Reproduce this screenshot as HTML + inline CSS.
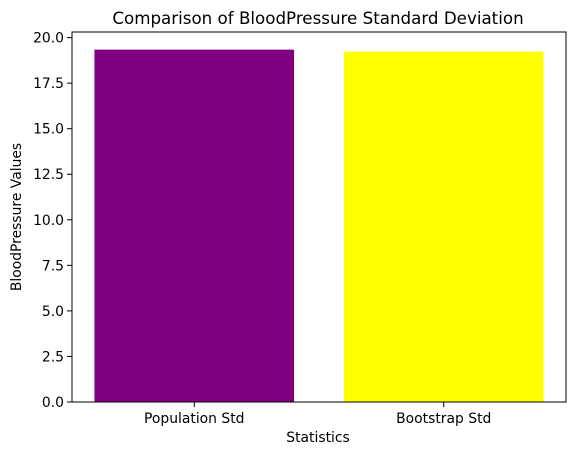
<!DOCTYPE html>
<html><head><meta charset="utf-8"><style>
body{margin:0;background:#fff;font-family:"DejaVu Sans","Liberation Sans",sans-serif;}
svg text{font-family:"DejaVu Sans","Liberation Sans",sans-serif;}
</style></head><body>
<svg id="chart" width="576" height="455" xmlns="http://www.w3.org/2000/svg">
<rect width="576" height="455" fill="#fff"/>
<text x="318" y="24" text-anchor="middle" font-size="16.7">Comparison of BloodPressure Standard Deviation</text>
<g id="bars"></g>
<g id="yticks"></g>
<g id="xticks"></g>
<rect x="72" y="32" width="494" height="370" fill="none" stroke="#000" stroke-width="1"/>
<text x="318" y="442" text-anchor="middle" font-size="13.9">Statistics</text>
<text transform="translate(21,217) rotate(-90)" text-anchor="middle" font-size="13.9">BloodPressure Values</text>
</svg>
<script>
const categories=["Population Std","Bootstrap Std"];
const values=[19.34,19.23];
const colors=["#800080","#ffff00"];
const yTicks=[0,2.5,5,7.5,10,12.5,15,17.5,20];
const NS="http://www.w3.org/2000/svg";
const L=72,R=566,T=32,B=402;
const ymax=Math.max(...values)*1.05;
function y(v){return B-(v/ymax)*(B-T);}
const xmin=-0.4-0.09,xmax=categories.length-1+0.4+0.09;
function x(v){return L+(v-xmin)/(xmax-xmin)*(R-L);}
const bars=document.getElementById('bars');
const yt=document.getElementById('yticks');
const xt=document.getElementById('xticks');
function mk(tag,attrs,parent){const e=document.createElementNS(NS,tag);for(const k in attrs)e.setAttribute(k,attrs[k]);parent.appendChild(e);return e;}
categories.forEach((c,i)=>{
  const r=mk('rect',{x:x(i-0.4),y:y(values[i]),width:x(i+0.4)-x(i-0.4),height:B-y(values[i]),fill:colors[i]},bars);
  
  
  mk('line',{x1:x(i),x2:x(i),y1:B,y2:B+5,stroke:'#000'},xt);
  const t=mk('text',{x:x(i),y:B+21,'text-anchor':'middle','font-size':'13.9'},xt);
  t.textContent=c;
  
  
});
yTicks.forEach(v=>{
  mk('line',{x1:L-5,x2:L,y1:y(v),y2:y(v),stroke:'#000'},yt);
  const t=mk('text',{x:L-8,y:y(v)+5,'text-anchor':'end','font-size':'13.9'},yt);
  t.textContent=v.toFixed(1);
  
  
});
</script>
</body></html>
